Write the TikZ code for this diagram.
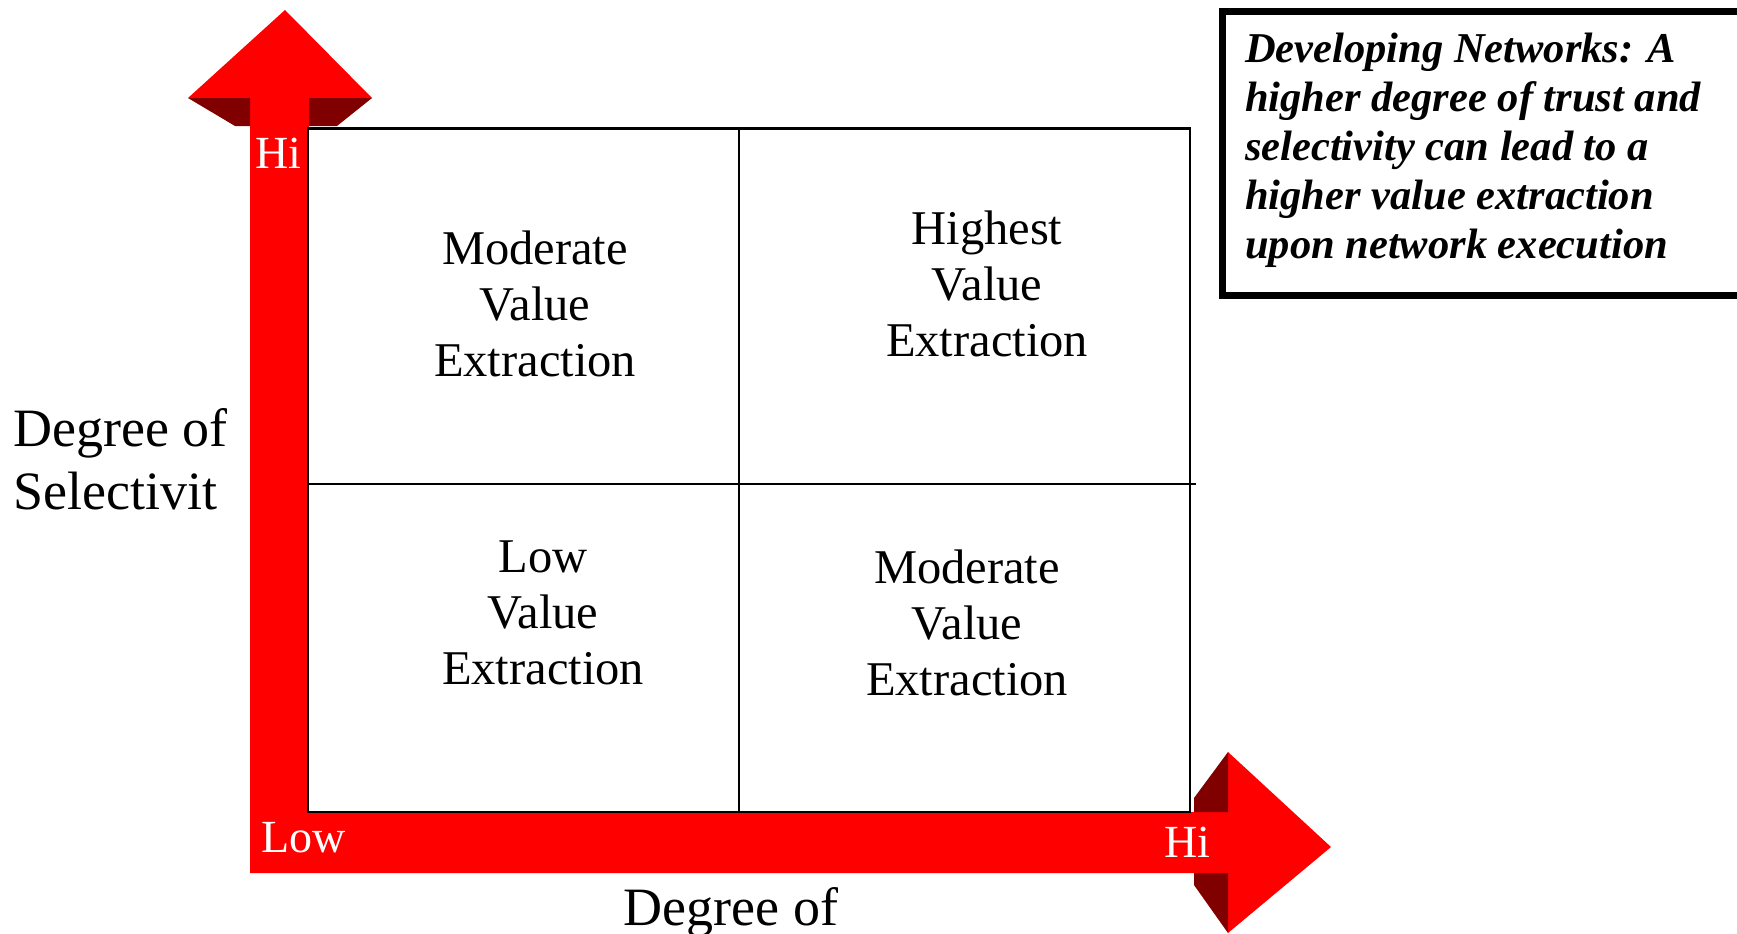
\documentclass[tikz,border=0pt]{standalone}
\usepackage{fontspec}
\setmainfont{Liberation Serif}
\definecolor{arrowred}{RGB}{255,0,0}
\definecolor{arrowdark}{RGB}{128,0,0}
\begin{document}
\begin{tikzpicture}[x=1pt,y=-1pt,
  quad/.style={align=center, font=\fontsize{48.5}{56}\selectfont, inner sep=0pt},
  axislab/.style={font=\fontsize{54}{63}\selectfont, inner sep=0pt},
  endlab/.style={text=white, font=\fontsize{46}{50}\selectfont, inner sep=0pt, anchor=base west},
  gridline/.style={line width=2.2pt, draw=black},
  shadepart/.style={fill=arrowdark},
  notebox/.style={line width=7pt, draw=black}
]
\useasboundingbox (0,0) rectangle (1737,934);
% red L-shaped double arrow
\fill[arrowred] (250,873) -- (250,98) -- (188,98) -- (285,10) -- (372,98) -- (309,98)
  -- (309,812) -- (1228,812) -- (1228,752) -- (1331,847) -- (1228,933) -- (1228,873) -- cycle;
% dark bevel parts
\fill[shadepart] (188,98) -- (235,126) -- (250,126) -- (250,98) -- cycle;
\fill[shadepart] (309,98) -- (372,98) -- (337,126) -- (309,126) -- cycle;
\fill[shadepart] (1228,752) -- (1194,798) -- (1194,812) -- (1228,812) -- cycle;
\fill[shadepart] (1228,873) -- (1194,873) -- (1194,885) -- (1228,933) -- cycle;
% grid
\coordinate (gtl) at (308,128.5);
\coordinate (gbr) at (1190,812);
\fill[white] (gtl) rectangle (gbr);
\draw[gridline] (gtl) rectangle (gbr);
\coordinate (vtop) at (739,128.5);
\coordinate (vbot) at (739,812);
\draw[gridline] (vtop) -- (vbot);
\coordinate (hleft) at (308,484);
\coordinate (hright) at (1196,484);
\draw[gridline] (hleft) -- (hright);
% quadrant texts
\node[quad] (qtl) at (535,304) {Moderate\\Value\\Extraction};
\node[quad] (qtr) at (987,284) {Highest\\Value\\Extraction};
\node[quad] (qbl) at (543,613) {Low\\Value\\Extraction};
\node[quad] (qbr) at (967,623) {Moderate\\Value\\Extraction};
% axis labels
\node[axislab, align=left, anchor=west] (ylab) at (13,459) {Degree of\\Selectivit};
\node[axislab, anchor=base] (xlab) at (731,925) {Degree of};
% end labels
\node[endlab] (yhi) at (255,168) {Hi};
\node[endlab] (xlow) at (261,852) {Low};
\node[endlab] (xhi) at (1164,857) {Hi};
% note box
\draw[notebox] (1222,12) rectangle (1760,295);
\node[align=left, anchor=west, inner sep=0pt,
  font=\fontsize{42.5}{49}\selectfont\bfseries\itshape] (note) at (1245,150)
  {Developing Networks: A\\higher degree of trust and\\selectivity can lead to a\\higher value extraction\\upon network execution};
\end{tikzpicture}
\end{document}
